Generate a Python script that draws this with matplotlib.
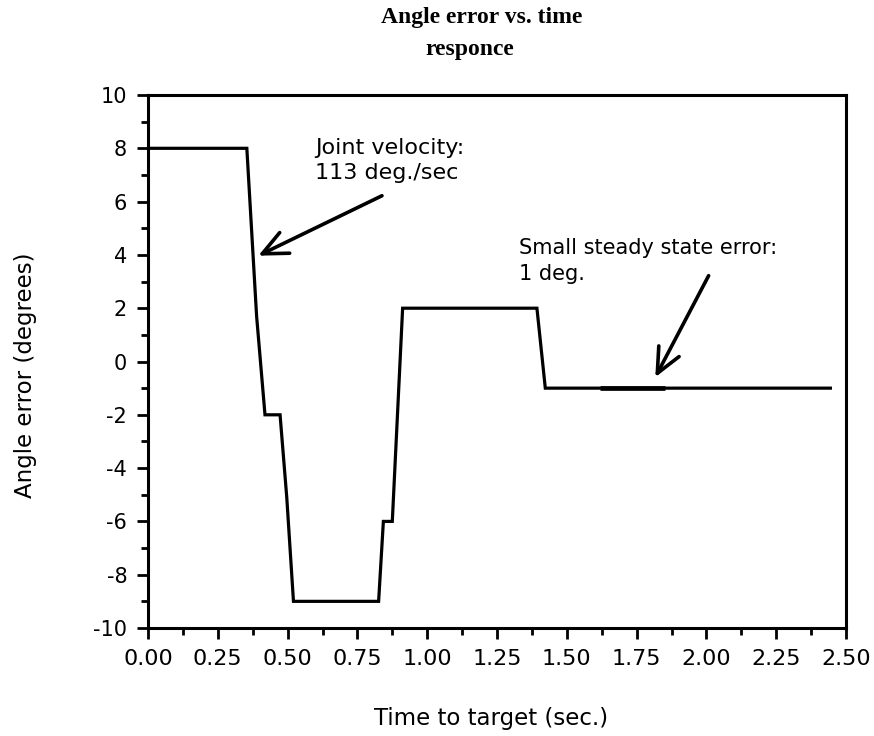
import matplotlib
matplotlib.use("Agg")
import matplotlib.pyplot as plt
from matplotlib.ticker import MultipleLocator, FormatStrFormatter

# Step response of the joint angle error
time_s = [0.0, 0.354, 0.389, 0.419, 0.473, 0.497, 0.521, 0.826, 0.843,
          0.875, 0.912, 1.393, 1.423, 2.444]
angle_err = [8, 8, 1.7, -2, -2, -5.1, -9, -9, -6, -6, 2, 2, -1, -1]

# overdrawn stretch of the steady-state segment
steady_t = [1.62, 1.85]
steady_err = [-1, -1]

x_ticks = [0.0, 0.25, 0.5, 0.75, 1.0, 1.25, 1.5, 1.75, 2.0, 2.25, 2.5]
y_ticks = [-10, -8, -6, -4, -2, 0, 2, 4, 6, 8, 10]

# annotation anchors (tip, tail) in data units
vel_tip, vel_tail = (0.395, 3.97), (0.838, 6.22)
sse_tip, sse_tail = (1.817, -0.59), (2.008, 3.22)

sans = ["DejaVu Sans"]
serif = ["Liberation Serif", "DejaVu Serif"]

fig = plt.figure(figsize=(8.74, 7.36), dpi=100)
ax = fig.add_axes([148 / 874, 1 - 628 / 736, 698 / 874, 533 / 736])

ax.plot(time_s, angle_err, color="black", lw=2.3, solid_joinstyle="miter")
ax.plot(steady_t, steady_err, color="black", lw=3.4, solid_capstyle="butt")

ax.set_xlim(0, 2.5)
ax.set_ylim(-10, 10)
ax.set_xticks(x_ticks)
ax.set_yticks(y_ticks)
ax.xaxis.set_minor_locator(MultipleLocator(0.125))
ax.yaxis.set_minor_locator(MultipleLocator(1))
ax.xaxis.set_major_formatter(FormatStrFormatter("%.2f"))
ax.yaxis.set_major_formatter(FormatStrFormatter("%d"))

for s in ax.spines.values():
    s.set_linewidth(2.2)
ax.tick_params(which="major", length=8, width=2.0, direction="out", pad=7,
               top=False, right=False)
ax.tick_params(which="minor", length=5, width=2.0, direction="out",
               top=False, right=False)
ax.tick_params(axis="x", which="major", labelsize=16)
ax.tick_params(axis="y", which="major", labelsize=15)
for lab in ax.get_xticklabels() + ax.get_yticklabels():
    lab.set_family(sans)

arrow_kw = dict(arrowstyle="->, head_length=1.2, head_width=0.55",
                color="black", lw=2.6, shrinkA=0, shrinkB=0,
                mutation_scale=15)
ax.annotate("", xy=vel_tip, xytext=vel_tail, arrowprops=arrow_kw)
ax.annotate("", xy=sse_tip, xytext=sse_tail, arrowprops=arrow_kw)

ax.text(0.599, 7.53, "Joint velocity:\n113 deg./sec", ha="left", va="center",
        fontsize=16, family=sans, linespacing=1.3)
ax.text(1.330, 3.78, "Small steady state error:\n1 deg.", ha="left",
        va="center", fontsize=15, family=sans, linespacing=1.35)

fig.text(482 / 874, 1 - 18 / 736, "Angle error vs. time", ha="center",
         va="center", fontsize=17, fontweight="bold", family=serif)
fig.text(470 / 874, 1 - 50 / 736, "responce", ha="center", va="center",
         fontsize=17, fontweight="bold", family=serif)

fig.text(491 / 874, 1 - 718 / 736, "Time to target (sec.)", ha="center",
         va="center", fontsize=16.5, family=sans)
fig.text(26 / 874, 1 - 375 / 736, "Angle error (degrees)", ha="center",
         va="center", rotation=90, fontsize=16.5, family=sans)

fig.savefig("out.png", dpi=100)
